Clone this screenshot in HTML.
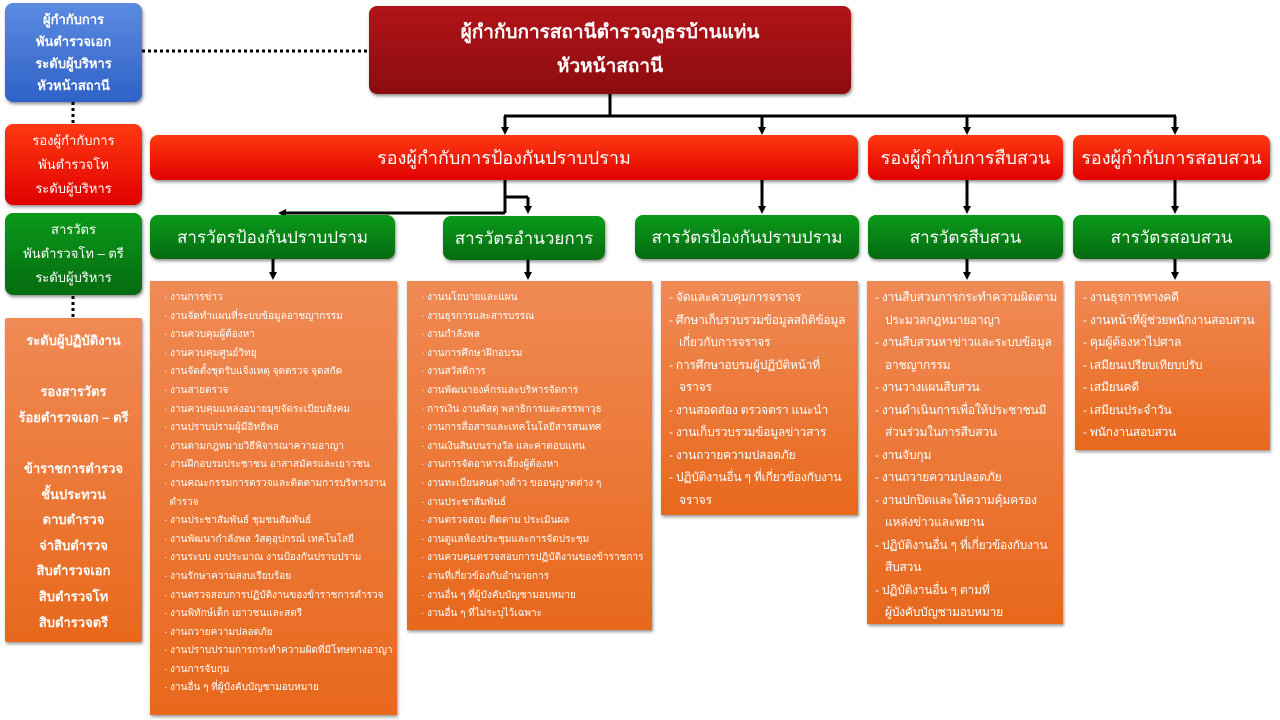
<!DOCTYPE html>
<html><head><meta charset="utf-8"><style>
body{margin:0;width:1280px;height:720px;background:#fff;position:relative;overflow:hidden;font-family:"Liberation Sans","Noto Sans CJK SC","WenQuanYi Zen Hei",sans-serif;}
.b{position:absolute;box-sizing:border-box;color:#fff;border-radius:8px;box-shadow:1px 2px 3px rgba(0,0,0,.45);display:flex;flex-direction:column;justify-content:center;align-items:center;text-align:center;}
.red{background:linear-gradient(#ff3a10,#e00000);font-size:18px;}
.grn{background:linear-gradient(#0a9a1a,#056b10);font-size:17px;}
.or{position:absolute;box-sizing:border-box;color:#fff;background:linear-gradient(#f08a55,#e8681c);box-shadow:1px 2px 3px rgba(0,0,0,.4);white-space:nowrap;}
.s{font-size:10px;line-height:18.6px;padding:8px 0 0 14px;}
.m{font-size:12px;line-height:22.5px;padding:5px 0 0 8px;letter-spacing:-0.2px;}
.m div{padding-left:10px;text-indent:-10px;}
svg{position:absolute;left:0;top:0;}
</style></head><body>
<svg width="1280" height="720">
<defs><marker id="a" markerWidth="8" markerHeight="8" refX="4" refY="4" orient="auto" markerUnits="userSpaceOnUse"><path d="M0,0 L8,4 L0,8z" fill="#000"/></marker></defs>
<g stroke="#000" stroke-width="3" fill="none">
<line x1="142" y1="51" x2="369" y2="51" stroke-dasharray="3,3"/>
<line x1="73" y1="102" x2="73" y2="124" stroke-dasharray="3,3"/>
<line x1="73" y1="296" x2="73" y2="318" stroke-dasharray="3,3"/>
<line x1="610" y1="94" x2="610" y2="116"/>
<line x1="504" y1="116" x2="1176" y2="116"/>
<line x1="505" y1="116" x2="505" y2="131" marker-end="url(#a)"/>
<line x1="762" y1="116" x2="762" y2="131" marker-end="url(#a)"/>
<line x1="967" y1="116" x2="967" y2="131" marker-end="url(#a)"/>
<line x1="1175" y1="116" x2="1175" y2="131" marker-end="url(#a)"/>
<line x1="505" y1="180" x2="505" y2="213"/>
<line x1="505" y1="213" x2="282" y2="213" marker-end="url(#a)"/>
<line x1="504" y1="197" x2="528" y2="197"/>
<line x1="528" y1="197" x2="528" y2="210" marker-end="url(#a)"/>
<line x1="762" y1="180" x2="762" y2="210" marker-end="url(#a)"/>
<line x1="967" y1="180" x2="967" y2="210" marker-end="url(#a)"/>
<line x1="1175" y1="180" x2="1175" y2="210" marker-end="url(#a)"/>
<line x1="273" y1="259" x2="273" y2="276" marker-end="url(#a)"/>
<line x1="528" y1="259" x2="528" y2="276" marker-end="url(#a)"/>
<line x1="967" y1="259" x2="967" y2="276" marker-end="url(#a)"/>
<line x1="1175" y1="259" x2="1175" y2="276" marker-end="url(#a)"/>
</g></svg>

<div class="b" style="left:369px;top:6px;width:482px;height:88px;background:linear-gradient(#b01418,#8c0c10);font-size:19px;font-weight:bold;line-height:34px;"><div>ผู้กำกับการสถานีตำรวจภูธรบ้านแท่น</div><div>หัวหน้าสถานี</div></div>

<div class="b" style="left:5px;top:3px;width:137px;height:99px;background:linear-gradient(#5b8be0,#2f62c8);font-size:13px;font-weight:bold;line-height:22px;"><div>ผู้กำกับการ</div><div>พันตำรวจเอก</div><div>ระดับผู้บริหาร</div><div>หัวหน้าสถานี</div></div>
<div class="b red" style="left:5px;top:124px;width:137px;height:81px;font-size:13px;line-height:24px;"><div>รองผู้กำกับการ</div><div>พันตำรวจโท</div><div>ระดับผู้บริหาร</div></div>
<div class="b grn" style="left:5px;top:213px;width:137px;height:82px;font-size:13px;line-height:24px;"><div>สารวัตร</div><div>พันตำรวจโท – ตรี</div><div>ระดับผู้บริหาร</div></div>
<div class="or" style="left:5px;top:318px;width:137px;height:324px;font-size:13px;font-weight:bold;line-height:25.6px;text-align:center;padding-top:10px;border-radius:2px;"><div>ระดับผู้ปฏิบัติงาน</div><div>&nbsp;</div><div>รองสารวัตร</div><div>ร้อยตำรวจเอก – ตรี</div><div>&nbsp;</div><div>ข้าราชการตำรวจ</div><div>ชั้นประทวน</div><div>ดาบตำรวจ</div><div>จ่าสิบตำรวจ</div><div>สิบตำรวจเอก</div><div>สิบตำรวจโท</div><div>สิบตำรวจตรี</div></div>

<div class="b red" style="left:150px;top:135px;width:708px;height:45px;">รองผู้กำกับการป้องกันปราบปราม</div>
<div class="b red" style="left:868px;top:135px;width:195px;height:45px;">รองผู้กำกับการสืบสวน</div>
<div class="b red" style="left:1073px;top:135px;width:197px;height:45px;">รองผู้กำกับการสอบสวน</div>

<div class="b grn" style="left:150px;top:215px;width:245px;height:44px;">สารวัตรป้องกันปราบปราม</div>
<div class="b grn" style="left:443px;top:216px;width:162px;height:44px;">สารวัตรอำนวยการ</div>
<div class="b grn" style="left:635px;top:215px;width:224px;height:44px;">สารวัตรป้องกันปราบปราม</div>
<div class="b grn" style="left:868px;top:215px;width:195px;height:44px;">สารวัตรสืบสวน</div>
<div class="b grn" style="left:1073px;top:215px;width:197px;height:44px;">สารวัตรสอบสวน</div>

<div class="or s" style="left:150px;top:281px;width:247px;height:434px;">
<div>· งานการข่าว</div><div>· งานจัดทำแผนที่ระบบข้อมูลอาชญากรรม</div><div>· งานควบคุมผู้ต้องหา</div><div>· งานควบคุมศูนย์วิทยุ</div><div>· งานจัดตั้งชุดรับแจ้งเหตุ จุดตรวจ จุดสกัด</div><div>· งานสายตรวจ</div><div>· งานควบคุมแหล่งอบายมุขจัดระเบียบสังคม</div><div>· งานปราบปรามผู้มีอิทธิพล</div><div>· งานตามกฎหมายวิธีพิจารณาความอาญา</div><div>· งานฝึกอบรมประชาชน อาสาสมัครและเยาวชน</div><div>· งานคณะกรรมการตรวจและติดตามการบริหารงาน</div><div>&nbsp;&nbsp;ตำรวจ</div><div>· งานประชาสัมพันธ์ ชุมชนสัมพันธ์</div><div>· งานพัฒนากำลังพล วัสดุอุปกรณ์ เทคโนโลยี</div><div>· งานระบบ งบประมาณ งานป้องกันปราบปราม</div><div>· งานรักษาความสงบเรียบร้อย</div><div>· งานตรวจสอบการปฏิบัติงานของข้าราชการตำรวจ</div><div>· งานพิทักษ์เด็ก เยาวชนและสตรี</div><div>· งานถวายความปลอดภัย</div><div>· งานปราบปรามการกระทำความผิดที่มีโทษทางอาญา</div><div>· งานการจับกุม</div><div>· งานอื่น ๆ ที่ผู้บังคับบัญชามอบหมาย</div></div>

<div class="or s" style="left:407px;top:281px;width:245px;height:349px;">
<div>· งานนโยบายและแผน</div><div>· งานธุรการและสารบรรณ</div><div>· งานกำลังพล</div><div>· งานการศึกษาฝึกอบรม</div><div>· งานสวัสดิการ</div><div>· งานพัฒนาองค์กรและบริหารจัดการ</div><div>· การเงิน งานพัสดุ พลาธิการและสรรพาวุธ</div><div>· งานการสื่อสารและเทคโนโลยีสารสนเทศ</div><div>· งานเงินสินบนรางวัล และค่าตอบแทน</div><div>· งานการจัดอาหารเลี้ยงผู้ต้องหา</div><div>· งานทะเบียนคนต่างด้าว ขออนุญาตต่าง ๆ</div><div>· งานประชาสัมพันธ์</div><div>· งานตรวจสอบ ติดตาม ประเมินผล</div><div>· งานดูแลห้องประชุมและการจัดประชุม</div><div>· งานควบคุมตรวจสอบการปฏิบัติงานของข้าราชการ</div><div>· งานที่เกี่ยวข้องกับอำนวยการ</div><div>· งานอื่น ๆ ที่ผู้บังคับบัญชามอบหมาย</div><div>· งานอื่น ๆ ที่ไม่ระบุไว้เฉพาะ</div></div>

<div class="or m" style="left:661px;top:281px;width:197px;height:234px;">
<div>- จัดและควบคุมการจราจร</div><div>- ศึกษาเก็บรวบรวมข้อมูลสถิติข้อมูล<br>เกี่ยวกับการจราจร</div><div>- การศึกษาอบรมผู้ปฏิบัติหน้าที่<br>จราจร</div><div>- งานสอดส่อง ตรวจตรา แนะนำ</div><div>- งานเก็บรวบรวมข้อมูลข่าวสาร</div><div>- งานถวายความปลอดภัย</div><div>- ปฏิบัติงานอื่น ๆ ที่เกี่ยวข้องกับงาน<br>จราจร</div></div>

<div class="or m" style="left:867px;top:281px;width:196px;height:343px;">
<div>- งานสืบสวนการกระทำความผิดตาม<br>ประมวลกฎหมายอาญา</div><div>- งานสืบสวนหาข่าวและระบบข้อมูล<br>อาชญากรรม</div><div>- งานวางแผนสืบสวน</div><div>- งานดำเนินการเพื่อให้ประชาชนมี<br>ส่วนร่วมในการสืบสวน</div><div>- งานจับกุม</div><div>- งานถวายความปลอดภัย</div><div>- งานปกปิดและให้ความคุ้มครอง<br>แหล่งข่าวและพยาน</div><div>- ปฏิบัติงานอื่น ๆ ที่เกี่ยวข้องกับงาน<br>สืบสวน</div><div>- ปฏิบัติงานอื่น ๆ ตามที่<br>ผู้บังคับบัญชามอบหมาย</div></div>

<div class="or m" style="left:1075px;top:281px;width:195px;height:169px;">
<div>- งานธุรการทางคดี</div><div>- งานหน้าที่ผู้ช่วยพนักงานสอบสวน</div><div>- คุมผู้ต้องหาไปศาล</div><div>- เสมียนเปรียบเทียบปรับ</div><div>- เสมียนคดี</div><div>- เสมียนประจำวัน</div><div>- พนักงานสอบสวน</div></div>
</body></html>
